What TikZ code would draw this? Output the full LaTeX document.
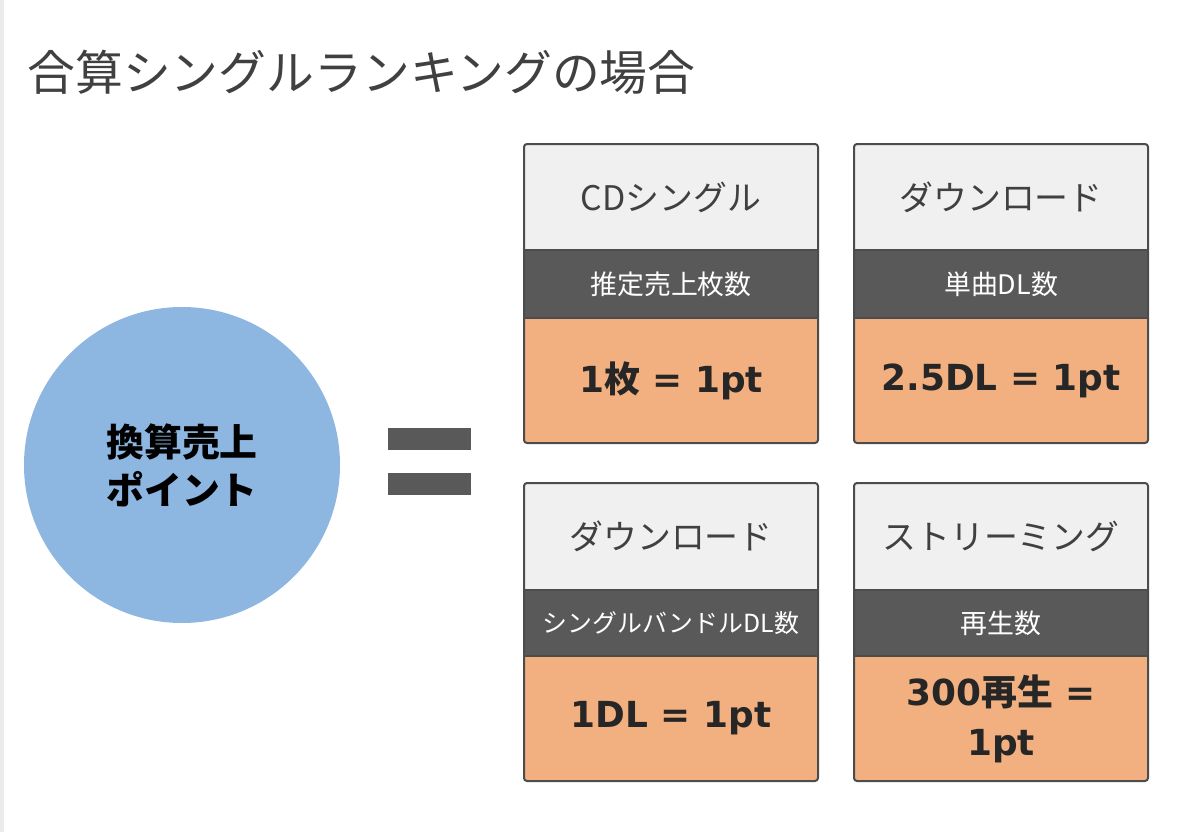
\documentclass[tikz,border=0pt]{standalone}
\usepackage{fontspec}
\setmainfont{Noto Sans CJK JP}
\newfontfamily\vsans{DejaVu Sans}
\begin{document}
\begin{tikzpicture}[x=1bp,y=-1bp,
  hdr/.style={fill=black!6,draw=none},
  band/.style={fill=black!65,draw=none},
  frame/.style={draw=black!70,line width=2bp,rounded corners=3bp},
  htxt/.style={font=\fontsize{34}{36}\selectfont,text=black!75},
  btxt/.style={font=\fontsize{27}{30}\selectfont,text=white},
  otxt/.style={font=\bfseries\fontsize{36}{50}\selectfont,text=black!85,align=center}]
\definecolor{org}{HTML}{F2AF80}
\tikzset{org/.style={fill=org,draw=none}}
\useasboundingbox (0,0) rectangle (1179,832);
\fill[black!8] (0,0) rectangle (4,832);
\node[anchor=west,font=\fontsize{48}{50}\selectfont,text=black!75] (title) at (24,72) {合算シングルランキングの場合};
\definecolor{cb}{HTML}{8DB6E1}
\node[circle,fill=cb,minimum size=316bp,inner sep=0,align=center,font=\bfseries\fontsize{38}{48}\selectfont] (pt) at (182,465) {換算売上\\ポイント};
\fill[black!65] (388,428) rectangle (471,450);
\fill[black!65] (388,473) rectangle (471,495);
\newcommand{\mybox}[9]{%
 \fill[hdr] (#1,#3) rectangle (#2,#4);
 \fill[band] (#1,#4) rectangle (#2,#5);
 \fill[org] (#1,#5) rectangle (#2,#6);
 \draw[black!70,line width=1.5bp] (#1,#4)--(#2,#4) (#1,#5)--(#2,#5);
 \draw[frame] (#1,#3) rectangle (#2,#6);
 \node[htxt] at ({(#1+#2)/2},{(#3+#4)/2}) {#7};
 \node[btxt] at ({(#1+#2)/2},{(#4+#5)/2}) {#8};
 \node[otxt] at ({(#1+#2)/2},{(#5+#6)/2}) {#9};}
\mybox{524}{818}{144}{250}{318}{443}{CDシングル}{推定売上枚数}{{\vsans 1}枚{\vsans{} = 1pt}}
\mybox{854}{1148}{144}{250}{318}{443}{ダウンロード}{単曲DL数}{\vsans 2.5DL = 1pt}
\mybox{524}{818}{483}{590}{656}{781}{ダウンロード}{\fontsize{25}{28}\selectfont シングルバンドルDL数}{\vsans 1DL = 1pt}
\mybox{854}{1148}{483}{590}{656}{781}{ストリーミング}{再生数}{{\vsans 300}再生{\vsans{} =}\\{\vsans 1pt}}
\end{tikzpicture}
\end{document}
